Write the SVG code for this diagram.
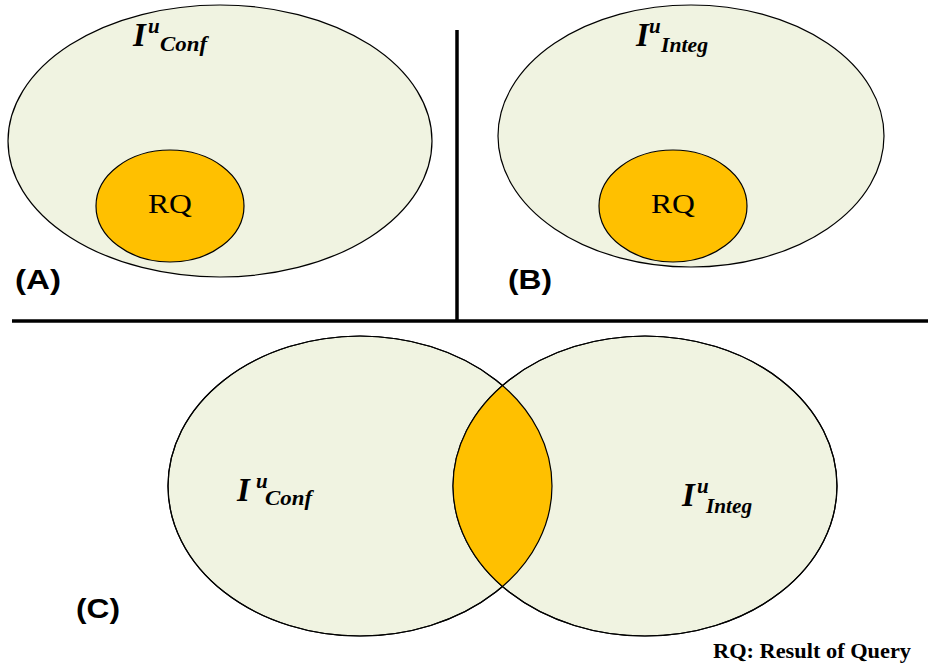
<svg xmlns="http://www.w3.org/2000/svg" width="928" height="670" viewBox="0 0 928 670">
<style>
.set{fill:#F0F3E1;stroke:#000;stroke-width:1.2}
.rq{fill:#FFC000;stroke:#000;stroke-width:1.2}
.edge{fill:none;stroke:#000;stroke-width:1.2}
.sep{stroke:#000;stroke-width:3.5;fill:none}
.big{font-family:"Liberation Serif",serif;font-weight:bold;font-style:italic;font-size:33px}
.sm{font-family:"Liberation Serif",serif;font-weight:bold;font-style:italic;font-size:21px}
.rqt{font-family:"Liberation Serif",serif;font-size:27px}
.lab{font-family:"Liberation Sans",sans-serif;font-weight:bold;font-size:27px}
.note{font-family:"Liberation Serif",serif;font-weight:bold;font-size:21.5px}
</style>
<defs>
<clipPath id="clipL"><ellipse cx="360" cy="486" rx="192" ry="150"/></clipPath>
</defs>
<g id="nodeA">
<ellipse class="set" cx="220" cy="141" rx="212" ry="136"/>
<ellipse class="rq" cx="170" cy="206" rx="74" ry="56"/>
<text class="rqt" x="148" y="213" textLength="44" lengthAdjust="spacingAndGlyphs">RQ</text>
<text class="big" x="133" y="46">I</text>
<text class="sm" x="148" y="33">u</text>
<text class="sm" x="160" y="51" textLength="47" lengthAdjust="spacingAndGlyphs">Conf</text>
<text class="lab" x="15" y="289" textLength="46" lengthAdjust="spacingAndGlyphs">(A)</text>
</g>
<g id="nodeB">
<ellipse class="set" cx="691" cy="136" rx="193" ry="131"/>
<ellipse class="rq" cx="673" cy="206" rx="74" ry="56"/>
<text class="rqt" x="651" y="213" textLength="44" lengthAdjust="spacingAndGlyphs">RQ</text>
<text class="big" x="636" y="46">I</text>
<text class="sm" x="649" y="33">u</text>
<text class="sm" x="661" y="52" textLength="47" lengthAdjust="spacingAndGlyphs">Integ</text>
<text class="lab" x="508" y="289" textLength="44" lengthAdjust="spacingAndGlyphs">(B)</text>
</g>
<g id="nodeC">
<ellipse class="set" cx="360" cy="486" rx="192" ry="150"/>
<ellipse class="set" cx="645" cy="486" rx="192" ry="150"/>
<ellipse cx="645" cy="486" rx="192" ry="150" fill="#FFC000" clip-path="url(#clipL)"/>
<ellipse class="edge" cx="360" cy="486" rx="192" ry="150"/>
<ellipse class="edge" cx="645" cy="486" rx="192" ry="150"/>
<text class="big" x="237" y="501">I</text>
<text class="sm" x="256" y="488">u</text>
<text class="sm" x="265" y="505" textLength="47" lengthAdjust="spacingAndGlyphs">Conf</text>
<text class="big" x="682" y="506">I</text>
<text class="sm" x="697" y="493">u</text>
<text class="sm" x="706" y="513" textLength="46" lengthAdjust="spacingAndGlyphs">Integ</text>
<text class="lab" x="76" y="618" textLength="44" lengthAdjust="spacingAndGlyphs">(C)</text>
</g>
<g id="connectors">
<line class="sep" x1="457" y1="30" x2="457" y2="322"/>
<line class="sep" x1="12" y1="321" x2="928" y2="321"/>
</g>
<text class="note" x="713" y="658" textLength="198" lengthAdjust="spacingAndGlyphs">RQ: Result of Query</text>
</svg>
